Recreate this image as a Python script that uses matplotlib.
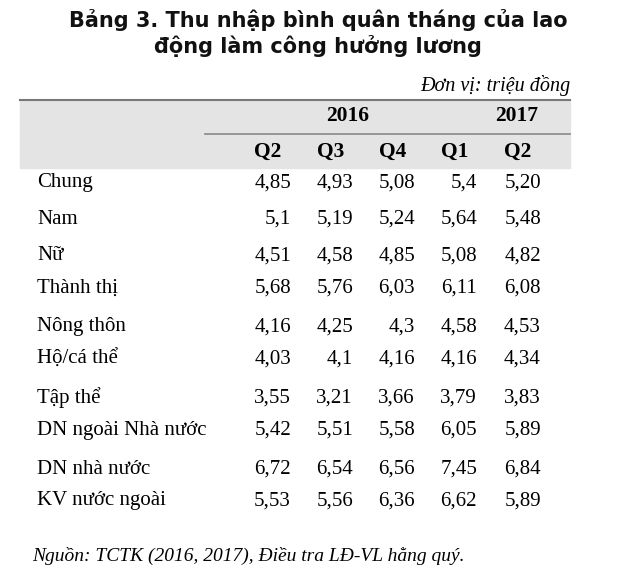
import matplotlib
matplotlib.use('Agg')
import matplotlib.pyplot as plt

rows = ["Chung", "Nam", "Nữ", "Thành thị", "Nông thôn", "Hộ/cá thể", "Tập thể",
        "DN ngoài Nhà nước", "DN nhà nước", "KV nước ngoài"]
quarters = ["Q2", "Q3", "Q4", "Q1", "Q2"]
years = ["2016", "2017"]
values = [
    ["4,85", "4,93", "5,08", "5,4", "5,20"],
    ["5,1", "5,19", "5,24", "5,64", "5,48"],
    ["4,51", "4,58", "4,85", "5,08", "4,82"],
    ["5,68", "5,76", "6,03", "6,11", "6,08"],
    ["4,16", "4,25", "4,3", "4,58", "4,53"],
    ["4,03", "4,1", "4,16", "4,16", "4,34"],
    ["3,55", "3,21", "3,66", "3,79", "3,83"],
    ["5,42", "5,51", "5,58", "6,05", "5,89"],
    ["6,72", "6,54", "6,56", "7,45", "6,84"],
    ["5,53", "5,56", "6,36", "6,62", "5,89"],
]

row_y = [183, 219, 256, 288, 327, 359, 398, 430, 469, 501]
col_right = [291, 353, 415, 477, 541]
q_center = [268, 331, 393, 455, 518]

serif = "Liberation Serif"
fig = plt.figure(figsize=(6.17, 5.85), dpi=100)
ax = fig.add_axes([0, 0, 1, 1])
ax.set_xlim(0, 617)
ax.set_ylim(585, 0)
ax.axis('off')

ax.text(318, 20, "Bảng 3. Thu nhập bình quân tháng của lao", ha='center', va='center',
        fontsize=15, fontweight='bold', family="DejaVu Sans", color='#111')
ax.text(318, 46, "động làm công hưởng lương", ha='center', va='center',
        fontsize=15, fontweight='bold', family="DejaVu Sans", color='#111')
ax.text(570, 85, "Đơn vị: triệu đồng", ha='right', va='center', fontsize=14.5,
        style='italic', family=serif)

ax.fill_between([20, 570], 100, 168, color='#e4e4e4', zorder=0)
ax.plot([20, 570], [100, 100], color='#777', lw=1.5)
ax.plot([205, 570], [134, 134], color='#888', lw=1.2)

ax.text(348, 116, years[0], ha='center', va='center', fontsize=15.5, fontweight='bold', family=serif)
ax.text(517, 116, years[1], ha='center', va='center', fontsize=15.5, fontweight='bold', family=serif)
for x, q in zip(q_center, quarters):
    ax.text(x, 152, q, ha='center', va='center', fontsize=15.5, fontweight='bold', family=serif)

for y, name, vals in zip(row_y, rows, values):
    ax.text(37, y, name, ha='left', va='center', fontsize=15, family=serif)
    for x, v in zip(col_right, vals):
        ax.text(x, y, v, ha='right', va='center', fontsize=15, family=serif)

ax.text(32, 556, "Nguồn: TCTK (2016, 2017), Điều tra LĐ-VL hằng quý.", ha='left', va='center',
        fontsize=14, style='italic', family=serif)

fig.savefig("out.png", dpi=100)
